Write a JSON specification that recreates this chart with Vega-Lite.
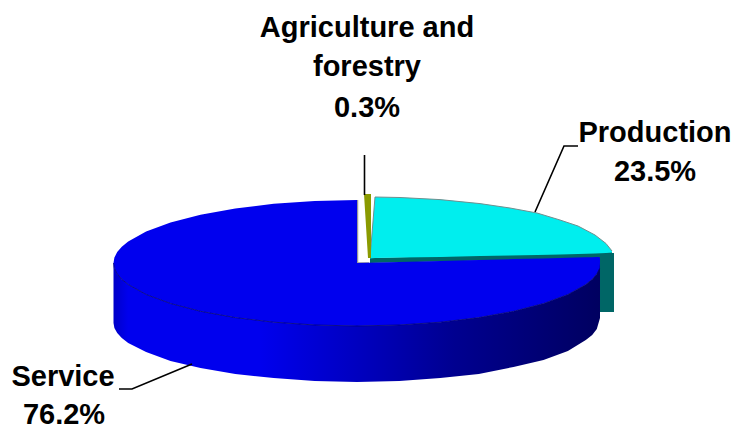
{"$schema":"https://vega.github.io/schema/vega-lite/v6.json","width":736,"height":432,"padding":0,"autosize":{"type":"none"},"background":"white","config":{"view":{"stroke":null}},
"datasets":{
"teal":[{"part":"strip","x":370,"y":258,"y2":263},{"part":"strip","x":612,"y":252,"y2":258},{"part":"block","x":599,"y":253,"y2":312},{"part":"block","x":614,"y":253,"y2":312}],
"cyan":[{"x":370,"y":258,"y2":258.5},{"x":375,"y":197,"y2":258},{"x":400,"y":197.5,"y2":257.5},{"x":440,"y":199.6,"y2":257},{"x":480,"y":203.6,"y2":256},{"x":510,"y":208,"y2":255.5},{"x":537,"y":213,"y2":255},{"x":560,"y":220,"y2":254.5},{"x":578,"y":226,"y2":254},{"x":595,"y":235,"y2":253.5},{"x":606,"y":243.5,"y2":253},{"x":612,"y":251,"y2":252.5}],
"agri":[{"x":364,"y":194,"y2":194.5},{"x":368,"y":194,"y2":258},{"x":371,"y":194,"y2":258}],
"edge":[{"x":357.5,"y":200},{"x":357.5,"y":263},{"x":369,"y":263}],
"side":[{"x":113.5,"y":263,"y2":323},{"x":114.4,"y":268.5,"y2":328},{"x":117.2,"y":273.9,"y2":333},{"x":121.8,"y":279.3,"y2":338},{"x":128.2,"y":284.5,"y2":343},{"x":146.1,"y":294.5,"y2":352},{"x":170.5,"y":303.5,"y2":361},{"x":200.5,"y":311.3,"y2":368},{"x":235.3,"y":317.6,"y2":374},{"x":273.7,"y":322.2,"y2":378},{"x":314.7,"y":325,"y2":381},{"x":357,"y":326,"y2":382},{"x":399.3,"y":325,"y2":381},{"x":440.3,"y":322.2,"y2":378},{"x":478.8,"y":317.6,"y2":374},{"x":513.5,"y":311.3,"y2":367},{"x":543.5,"y":303.5,"y2":360},{"x":567.9,"y":294.5,"y2":351},{"x":585.8,"y":284.5,"y2":340},{"x":592.2,"y":279.3,"y2":335},{"x":596.8,"y":273.9,"y2":329},{"x":600,"y":262,"y2":318}],
"top":[{"x":113.5,"y":263,"y2":263},{"x":114.4,"y":257.5,"y2":268.5},{"x":117.2,"y":252.1,"y2":273.9},{"x":121.8,"y":246.7,"y2":279.3},{"x":128.2,"y":241.5,"y2":284.5},{"x":146.1,"y":231.5,"y2":294.5},{"x":170.5,"y":222.5,"y2":303.5},{"x":200.5,"y":214.7,"y2":311.3},{"x":235.3,"y":208.4,"y2":317.6},{"x":273.7,"y":203.8,"y2":322.2},{"x":314.7,"y":201,"y2":325},{"x":357,"y":200,"y2":326},{"x":357.01,"y":263,"y2":326},{"x":399.3,"y":262,"y2":325},{"x":440.3,"y":261,"y2":322.2},{"x":478.8,"y":260,"y2":317.6},{"x":513.5,"y":259.1,"y2":311.3},{"x":543.5,"y":258.4,"y2":303.5},{"x":567.9,"y":257.8,"y2":294.5},{"x":585.8,"y":257.3,"y2":284.5},{"x":592.2,"y":257.2,"y2":279.3},{"x":596.8,"y":257,"y2":273.9},{"x":599.6,"y":257,"y2":268.5},{"x":600,"y":259,"y2":262}],
"rim":[{"x":113.5,"y":263},{"x":114.4,"y":268.5},{"x":117.2,"y":273.9},{"x":121.8,"y":279.3},{"x":128.2,"y":284.5},{"x":146.1,"y":294.5},{"x":170.5,"y":303.5},{"x":200.5,"y":311.3},{"x":235.3,"y":317.6},{"x":273.7,"y":322.2},{"x":314.7,"y":325},{"x":357,"y":326},{"x":399.3,"y":325},{"x":440.3,"y":322.2},{"x":478.8,"y":317.6},{"x":513.5,"y":311.3},{"x":543.5,"y":303.5},{"x":567.9,"y":294.5},{"x":585.8,"y":284.5},{"x":592.2,"y":279.3},{"x":596.8,"y":273.9},{"x":599.6,"y":268.5}],
"leaders":[{"id":"agri","o":0,"x":364.5,"y":155},{"id":"agri","o":1,"x":364.5,"y":195},{"id":"prod","o":0,"x":535,"y":212},{"id":"prod","o":1,"x":564,"y":146},{"id":"prod","o":2,"x":578,"y":146},{"id":"serv","o":0,"x":119,"y":389},{"id":"serv","o":1,"x":132,"y":389},{"id":"serv","o":2,"x":192,"y":364}],
"labels":[{"t":"Agriculture and","x":367,"y":28},{"t":"forestry","x":367,"y":67},{"t":"0.3%","x":367,"y":108},{"t":"Production","x":655,"y":133},{"t":"23.5%","x":655,"y":172},{"t":"Service","x":63,"y":377},{"t":"76.2%","x":64,"y":415}]
},
"encoding":{"x":{"field":"x","type":"quantitative","scale":{"domain":[0,736]},"axis":null},"y":{"field":"y","type":"quantitative","scale":{"domain":[432,0]},"axis":null}},
"layer":[
{"data":{"name":"teal"},"mark":{"type":"area","color":"#006666","opacity":1},"encoding":{"y2":{"field":"y2"},"detail":{"field":"part"}}},
{"data":{"name":"cyan"},"mark":{"type":"area","color":"#00eeee","opacity":1,"line":{"color":"#6f8f8f","strokeWidth":1}},"encoding":{"y2":{"field":"y2"}}},
{"data":{"name":"agri"},"mark":{"type":"area","color":"#8a9a00","opacity":1},"encoding":{"y2":{"field":"y2"}}},
{"data":{"name":"edge"},"mark":{"type":"line","color":"#999999","strokeWidth":1.5},"encoding":{"order":{"field":"y"}}},
{"data":{"name":"side"},"mark":{"type":"area","opacity":1,"color":{"gradient":"linear","x1":0,"x2":1,"y1":0,"y2":0,"stops":[{"offset":0,"color":"#0000c8"},{"offset":0.03,"color":"#0000ee"},{"offset":0.3,"color":"#0000ee"},{"offset":0.5,"color":"#0000c0"},{"offset":0.7,"color":"#000090"},{"offset":1,"color":"#000060"}]}},"encoding":{"y2":{"field":"y2"}}},
{"data":{"name":"top"},"mark":{"type":"area","color":"#0000ee","opacity":1},"encoding":{"y2":{"field":"y2"}}},
{"data":{"name":"rim"},"mark":{"type":"line","color":"#000070","strokeWidth":0.8}},
{"data":{"name":"leaders"},"mark":{"type":"line","color":"black","strokeWidth":1.6},"encoding":{"detail":{"field":"id"},"order":{"field":"o"}}},
{"data":{"name":"labels"},"mark":{"type":"text","font":"Liberation Sans","fontWeight":"bold","fontSize":29,"color":"black","align":"center","baseline":"middle"},"encoding":{"text":{"field":"t"}}}
]}
